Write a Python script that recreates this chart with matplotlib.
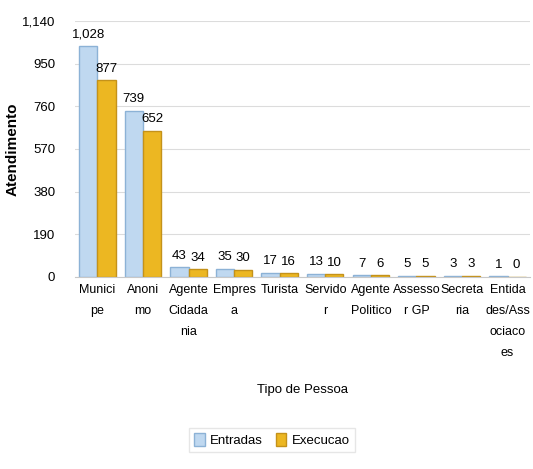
import matplotlib
matplotlib.use("Agg")
import matplotlib.pyplot as plt
import numpy as np
from matplotlib.ticker import FuncFormatter

plt.rcParams['font.family'] = ['Liberation Sans', 'DejaVu Sans']

categorias = ["Munici\npe", "Anoni\nmo", "Agente\nCidada\nnia", "Empres\na", "Turista",
              "Servido\nr", "Agente\nPolitico", "Assesso\nr GP", "Secreta\nria",
              "Entida\ndes/Ass\nociaco\nes"]
entradas = [1028, 739, 43, 35, 17, 13, 7, 5, 3, 1]
execucao = [877, 652, 34, 30, 16, 10, 6, 5, 3, 0]
yticks = [0, 190, 380, 570, 760, 950, 1140]

fig = plt.figure(figsize=(5.33, 4.69), dpi=100)
ax = fig.add_axes([0.14, 0.41, 0.855, 0.545])

x = np.arange(len(categorias))
w = 0.4
b1 = ax.bar(x - w/2, entradas, w, color='#bfd8f0', edgecolor='#8cb2d6', linewidth=1, label='Entradas')
b2 = ax.bar(x + w/2, execucao, w, color='#ecb722', edgecolor='#c4921a', linewidth=1, label='Execucao')
ax.bar_label(b1, labels=[f"{v:,}" for v in entradas], padding=4, fontsize=9.5)
ax.bar_label(b2, labels=[f"{v:,}" for v in execucao], padding=4, fontsize=9.5)

ax.set_ylim(0, 1140)
ax.set_xlim(-0.5, len(categorias) - 0.5)
ax.set_yticks(yticks)
ax.yaxis.set_major_formatter(FuncFormatter(lambda v, p: f"{int(v):,}"))
ax.grid(axis='y', color='#dcdcdc', linewidth=0.8)
ax.set_axisbelow(True)
for s in ['top', 'right', 'left']:
    ax.spines[s].set_visible(False)
ax.spines['bottom'].set_color('#c8c8c8')
ax.tick_params(axis='y', length=0, labelsize=9.5, pad=14)
ax.tick_params(axis='x', length=0, labelsize=9, pad=5)
ax.set_xticks(x)
ax.set_xticklabels(categorias, va='top', linespacing=2.0)

ax.set_ylabel('Atendimento', fontsize=11, fontweight='bold', labelpad=2)
ax.yaxis.set_label_coords(-0.12, 0.5)
ax.set_xlabel('Tipo de Pessoa', fontsize=9.5)
ax.xaxis.set_label_coords(0.5, -0.42)

leg = fig.legend(handles=[b1, b2], loc='center', bbox_to_anchor=(0.51, 0.062), ncol=2,
                 fontsize=9.5, frameon=True, fancybox=False, edgecolor='#e0e0e0',
                 handlelength=0.8, handleheight=1.2, columnspacing=1.0, handletextpad=0.4)

fig.savefig('out.png', dpi=100)
